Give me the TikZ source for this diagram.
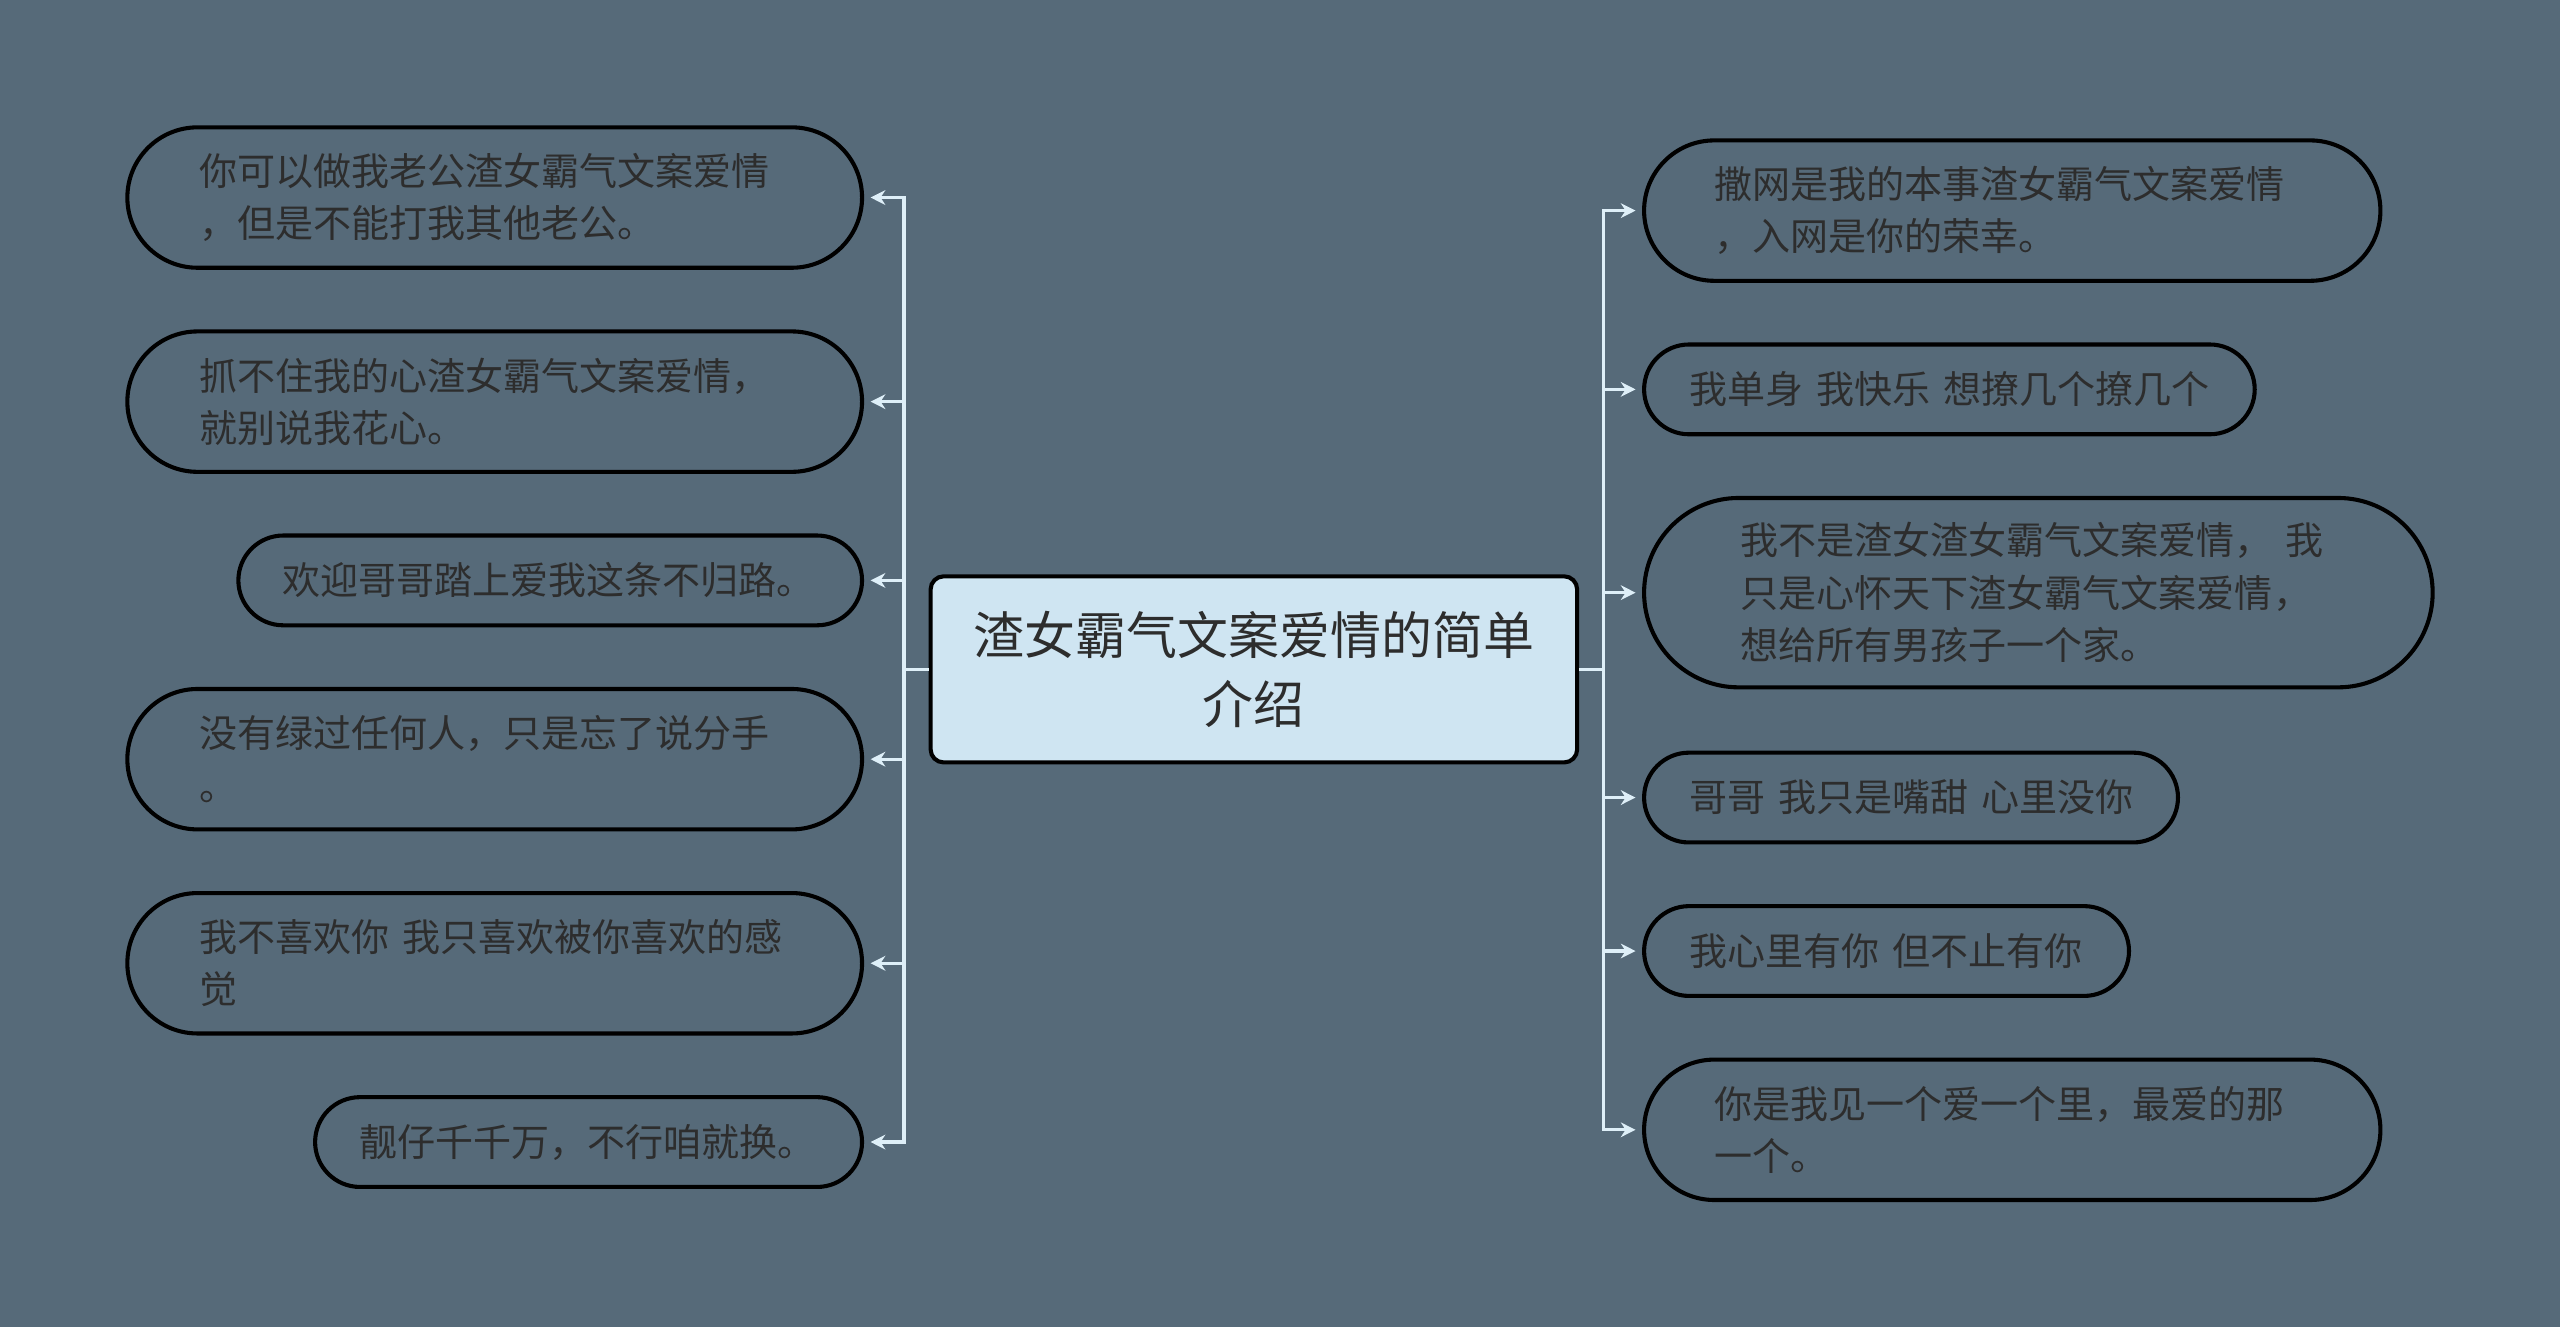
\documentclass[tikz,border=0pt]{standalone}
\usepackage{fontspec}
\newfontfamily\cjk{Noto Sans CJK SC}
\usetikzlibrary{arrows.meta}
\definecolor{bg}{RGB}{86,106,121}
\definecolor{cfill}{RGB}{207,229,242}
\definecolor{connc}{RGB}{222,239,248}
\definecolor{txt}{RGB}{45,45,45}
\begin{document}
\begin{tikzpicture}[x=1pt,y=-1pt,
  leaf/.style n args={3}{draw=black, line width=2.5pt, text=txt,
    font=\cjk\fontsize{23.3}{32}\selectfont, align=left, inner xsep=0pt, inner ysep=0pt,
    minimum width=#1pt, minimum height=#2pt, text width=#3pt, rounded corners=#2/2*1pt},
  center/.style={draw=black, line width=2.5pt, fill=cfill, text=txt,
    font=\cjk\fontsize{31.2}{42}\selectfont, align=center, inner sep=0pt,
    minimum width=396pt, minimum height=114pt, rounded corners=8pt},
  conn/.style={draw=connc, line width=2pt, shorten >=4pt,
    -{Stealth[length=9pt,width=9pt,fill=connc]}}
]
\useasboundingbox[fill=bg] (0,0) rectangle (1568,813);

\node[center] (c) at (768,410) {渣女霸气文案爱情的简单\\介绍};

% left
\node[leaf={450}{86}{362}] (l1) at (303,121) {你可以做我老公渣女霸气文案爱情\\，但是不能打我其他老公。};
\node[leaf={450}{86}{362}] (l2) at (303,246) {抓不住我的心渣女霸气文案爱情，\\就别说我花心。};
\node[leaf={382}{55}{328}] (l3) at (337,355.5) {欢迎哥哥踏上爱我这条不归路。};
\node[leaf={450}{86}{362}] (l4) at (303,465) {没有绿过任何人，只是忘了说分手\\。};
\node[leaf={450}{86}{362}] (l5) at (303,590) {我不喜欢你~我只喜欢被你喜欢的感\\觉};
\node[leaf={335}{55}{281}] (l6) at (360.5,699.5) {靓仔千千万，不行咱就换。};

% right
\node[leaf={451}{86}{365}] (r1) at (1232.5,129) {撒网是我的本事渣女霸气文案爱情\\，入网是你的荣幸。};
\node[leaf={374}{55}{318}] (r2) at (1194,238.5) {我单身~我快乐~想撩几个撩几个};
\node[leaf={483}{116}{365}] (r3) at (1248.5,363) {我不是渣女渣女霸气文案爱情，~我\\只是心怀天下渣女霸气文案爱情，\\想给所有男孩子一个家。};
\node[leaf={327}{55}{271}] (r4) at (1170.5,488.5) {哥哥~我只是嘴甜~心里没你};
\node[leaf={297}{55}{241}] (r5) at (1155.5,582.5) {我心里有你~但不止有你};
\node[leaf={451}{86}{365}] (r6) at (1232.5,692) {你是我见一个爱一个里，最爱的那\\一个。};

\coordinate (jl) at ([xshift=-15pt]c.west);
\coordinate (jr) at ([xshift=15pt]c.east);
\draw[draw=connc, line width=2pt] (c.west) -- (jl);
\draw[draw=connc, line width=2pt] (c.east) -- (jr);
\foreach \n in {l1,l2,l3,l4,l5,l6}{
  \draw[conn] (jl) |- (\n.east);
}
\foreach \n in {r1,r2,r3,r4,r5,r6}{
  \draw[conn] (jr) |- (\n.west);
}
\end{tikzpicture}
\end{document}
